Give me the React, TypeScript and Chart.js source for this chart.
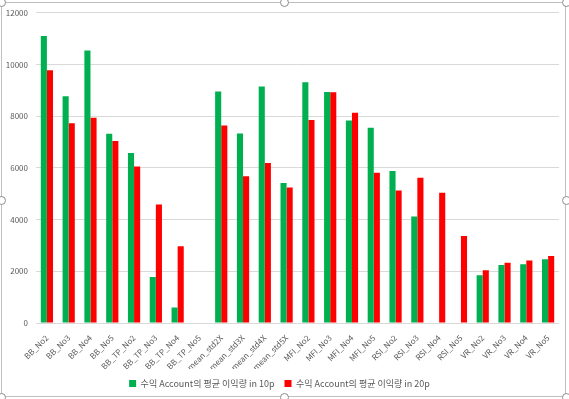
import React, { useEffect, useRef } from "react";
import { Chart, registerables } from "chart.js";

Chart.register(...registerables);

const categories = [
  "BB_No2", "BB_No3", "BB_No4", "BB_No5",
  "BB_TP_No2", "BB_TP_No3", "BB_TP_No4", "BB_TP_No5",
  "mean_std2X", "mean_std3X", "mean_std4X", "mean_std5X",
  "MFI_No2", "MFI_No3", "MFI_No4", "MFI_No5",
  "RSI_No2", "RSI_No3", "RSI_No4", "RSI_No5",
  "VR_No2", "VR_No3", "VR_No4", "VR_No5",
];

const profit10p: (number | null)[] = [
  11100, 8770, 10540, 7320,
  6580, 1780, 600, null,
  8960, 7330, 9150, 5420,
  9310, 8940, 7830, 7550,
  5880, 4120, null, null,
  1850, 2240, 2270, 2470,
];

const profit20p: (number | null)[] = [
  9780, 7730, 7940, 7040,
  6050, 4580, 2970, null,
  7640, 5680, 6190, 5240,
  7850, 8930, 8130, 5810,
  5130, 5620, 5040, 3370,
  2040, 2330, 2420, 2590,
];

const seriesNames = [
  "수익 Account의 평균 이익량 in 10p",
  "수익 Account의 평균 이익량 in 20p",
];

const yMin = 0;
const yMax = 12000;
const yStep = 2000;

const FONT = '"Noto Sans CJK KR", "Noto Sans", sans-serif';
const TEXT = "#595959";

function Handle({ x, y }: { x: number; y: number }) {
  return (
    <div
      style={{
        position: "absolute",
        left: x - 4,
        top: y - 4,
        width: 7,
        height: 7,
        borderRadius: "50%",
        border: "1px solid #8c8c8c",
        background: "#fff",
      }}
    />
  );
}

export default function App() {
  const ref = useRef<HTMLCanvasElement | null>(null);

  useEffect(() => {
    document.body.style.margin = "0";
    if (!ref.current) return;
    const chart = new Chart(ref.current, {
      type: "bar",
      data: {
        labels: categories,
        datasets: [
          {
            label: seriesNames[0],
            data: profit10p,
            backgroundColor: "#00B050",
            categoryPercentage: 0.56,
            barPercentage: 1,
          },
          {
            label: seriesNames[1],
            data: profit20p,
            backgroundColor: "#FF0000",
            categoryPercentage: 0.56,
            barPercentage: 1,
          },
        ],
      },
      options: {
        animation: false,
        responsive: false,
        maintainAspectRatio: false,
        layout: { padding: { left: 0, right: 10, top: 11, bottom: 1 } },
        plugins: {
          legend: {
            position: "bottom",
            labels: {
              boxWidth: 7,
              boxHeight: 7,
              padding: 10,
              color: TEXT,
              font: { family: FONT, size: 9 },
            },
          },
          tooltip: { enabled: false },
        },
        scales: {
          x: {
            grid: { display: false },
            border: { display: false },
            ticks: {
              color: TEXT,
              font: { family: FONT, size: 8 },
              minRotation: 45,
              maxRotation: 45,
              autoSkip: false,
              padding: 2,
            },
            afterFit: (s: any) => {
              s.height = 46;
            },
          },
          y: {
            min: yMin,
            max: yMax,
            grid: { color: "#d9d9d9", drawTicks: false },
            border: { display: false },
            ticks: {
              stepSize: yStep,
              color: TEXT,
              font: { family: FONT, size: 8 },
              padding: 8,
              callback: (v: any) => String(v),
            },
            afterFit: (s: any) => {
              s.width = 36;
            },
          },
        },
      },
    });
    return () => chart.destroy();
  }, []);

  return (
    <div style={{ position: "absolute", left: 0, top: 0, width: 569, height: 399, background: "#fff" }}>
      <canvas ref={ref} width={569} height={399} style={{ position: "absolute", left: 0, top: 0 }} />
      <div
        style={{
          position: "absolute",
          left: 1,
          top: 2,
          width: 565,
          height: 395,
          border: "1px solid #bfbfbf",
          boxSizing: "border-box",
          pointerEvents: "none",
        }}
      />
      <Handle x={1} y={2} />
      <Handle x={284} y={2} />
      <Handle x={566} y={2} />
      <Handle x={1} y={200} />
      <Handle x={566} y={200} />
      <Handle x={1} y={397} />
      <Handle x={284} y={397} />
      <Handle x={566} y={397} />
    </div>
  );
}
